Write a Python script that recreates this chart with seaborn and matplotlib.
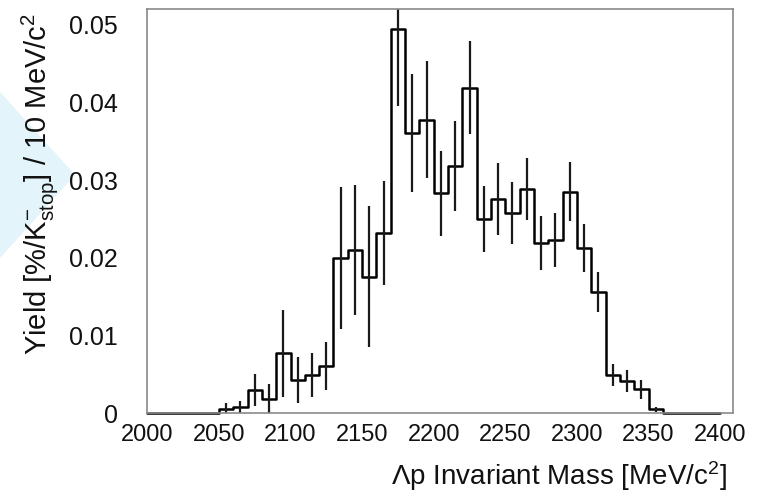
import numpy as np
import pandas as pd
import matplotlib
matplotlib.use("Agg")
import matplotlib.pyplot as plt
import seaborn as sns
from matplotlib.ticker import MultipleLocator
from matplotlib.patches import Polygon

# ---- data (10 MeV bins from 2000 to 2400 MeV/c^2) ----
bin_edges = list(range(2000, 2410, 10))
yields = [0, 0, 0, 0, 0,
          0.0006, 0.0008, 0.0030, 0.0019, 0.0077,
          0.0043, 0.0049, 0.0061, 0.0200, 0.0210,
          0.0176, 0.0232, 0.0495, 0.0361, 0.0378,
          0.0283, 0.0318, 0.0419, 0.0250, 0.0276,
          0.0258, 0.0289, 0.0219, 0.0223, 0.0285,
          0.0213, 0.0156, 0.0049, 0.0042, 0.0031,
          0.0005, 0, 0, 0, 0]
errors = [0, 0, 0, 0, 0,
          0.0007, 0.0008, 0.0020, 0.0019, 0.0056,
          0.0030, 0.0028, 0.0031, 0.0091, 0.0084,
          0.0091, 0.0067, 0.0099, 0.0076, 0.0075,
          0.0055, 0.0058, 0.0060, 0.0042, 0.0046,
          0.0040, 0.0040, 0.0035, 0.0035, 0.0038,
          0.0031, 0.0026, 0.0014, 0.0014, 0.0012,
          0.0003, 0, 0, 0, 0]
x_ticks = [2000, 2050, 2100, 2150, 2200, 2250, 2300, 2350, 2400]
y_ticks = [0, 0.01, 0.02, 0.03, 0.04, 0.05]
y_tick_labels = ["0", "0.01", "0.02", "0.03", "0.04", "0.05"]

centers = [(a + b) / 2 for a, b in zip(bin_edges[:-1], bin_edges[1:])]
df = pd.DataFrame({"mass": centers, "yield": yields, "err": errors})

sns.set_theme(style="white")
plt.rcParams["font.family"] = ["Liberation Sans", "DejaVu Sans"]
plt.rcParams["mathtext.fontset"] = "custom"
plt.rcParams["mathtext.rm"] = "Liberation Sans"
plt.rcParams["mathtext.it"] = "Liberation Sans:italic"
plt.rcParams["mathtext.bf"] = "Liberation Sans:bold"

fig = plt.figure(figsize=(7.61, 4.92), dpi=100)
fig.patches.append(Polygon([(0, 1 - 92 / 492), (75 / 761, 1 - 175 / 492), (0, 1 - 258 / 492)],
                           closed=True, transform=fig.transFigure,
                           facecolor="#e3f4fa", edgecolor="none", zorder=-5))
ax = fig.add_axes([147.3 / 761, 1 - 413.3 / 492, 585.7 / 761, 404 / 492])
ax.patch.set_alpha(0)

sns.histplot(data=df, x="mass", weights="yield", bins=bin_edges, element="step",
             fill=False, color="black", linewidth=1.8, ax=ax, clip_on=False)
m = df["err"] > 0
ax.vlines(df.loc[m, "mass"], df.loc[m, "yield"] - df.loc[m, "err"],
          df.loc[m, "yield"] + df.loc[m, "err"], color="#1a1a1a", linewidth=1.6)

ax.set_xlim(2000, 2409)
ax.set_ylim(0, 0.052)
ax.set_xticks(x_ticks)
ax.set_xticklabels([str(t) for t in x_ticks])
ax.set_yticks(y_ticks)
ax.set_yticklabels(y_tick_labels)
ax.xaxis.set_minor_locator(MultipleLocator(10))
ax.yaxis.set_minor_locator(MultipleLocator(0.002))

ax.tick_params(axis="both", which="both", direction="in", color="#666666", width=1.1,
               top=False, right=False, labelcolor="#111111")
ax.tick_params(axis="x", which="major", length=9, pad=8, labelsize=17)
ax.tick_params(axis="x", which="minor", length=5)
ax.tick_params(axis="y", which="major", length=12.5, pad=21, labelsize=18)
ax.tick_params(axis="y", which="minor", length=6.3)
for s in ax.spines.values():
    s.set_visible(True)
    s.set_color("#8a8a8a")
    s.set_linewidth(1.2)

ax.set_xlabel(r"$\Lambda$p Invariant Mass [MeV/c$^{2}$]", fontsize=20, loc="right", color="#111111")
ax.xaxis.label.set_va("baseline")
ax.xaxis.set_label_coords(0.99, -0.1775)
ax.set_ylabel(r"Yield [%/K$_{\mathrm{stop}}^{-}$] / 10 MeV/c$^{2}$", fontsize=21, loc="top", color="#111111")
ax.yaxis.label.set_va("baseline")
ax.yaxis.set_label_coords(-0.171, 0.991)

fig.savefig("out.png", dpi=100)
